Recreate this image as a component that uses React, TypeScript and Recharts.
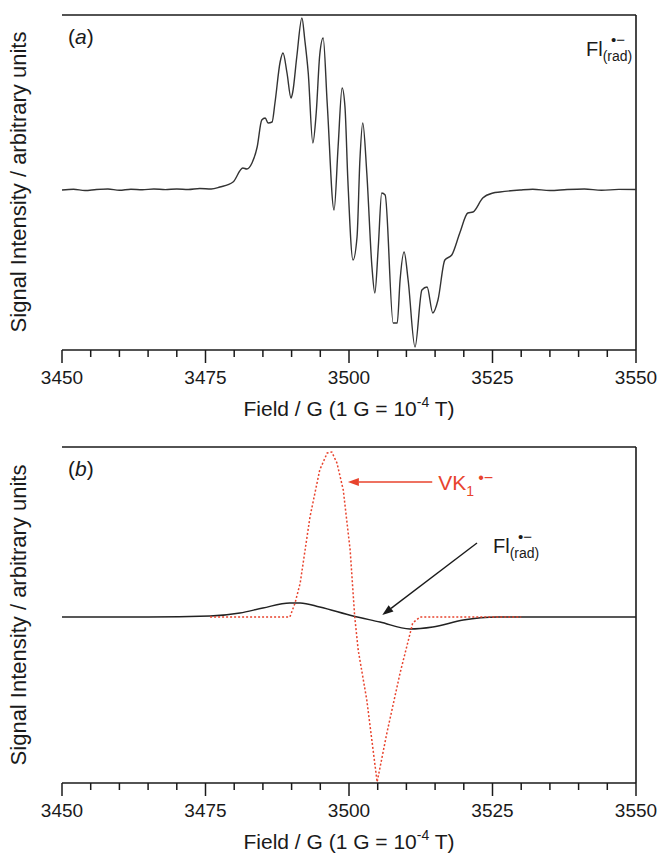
import { LineChart, Line, XAxis, YAxis, ReferenceLine } from 'recharts';

// ---- panel (a): measured Fl(rad) radical anion spectrum ----
const fieldA = [
  3450, 3452, 3454, 3456, 3458, 3460, 3462, 3464, 3466, 3468, 3470, 3472, 3474, 3476, 3477.5,
  3479.8, 3481.5, 3482.2, 3483.1, 3484.0, 3484.8, 3485.4, 3485.9, 3486.6, 3487.1, 3488.0,
  3488.5, 3489.2, 3489.9, 3490.2, 3490.9, 3491.8, 3492.3, 3492.9, 3493.7, 3494.3, 3494.9,
  3495.5, 3496.2, 3497.4, 3498.1, 3498.8, 3499.3, 3499.8, 3500.7, 3501.4, 3501.9, 3502.4,
  3503.1, 3504.0, 3504.5, 3505.1, 3505.7, 3506.3, 3507.7, 3508.4, 3508.9, 3509.6, 3510.3,
  3511.5, 3512.7, 3513.6, 3514.6, 3515.5, 3516.7, 3517.9, 3519.3, 3520.7, 3521.6, 3523.3,
  3525.1, 3526.3, 3529.8, 3532, 3535, 3538, 3541, 3544, 3547, 3550,
];
const signalA = [
  0, 0.8, -0.5, 0.5, 1, -0.3, 0.8, 0.2, 1, 0.4, 1, 0.5, 1.5, 1, 3,
  8, 22, 21, 27, 43, 70, 72, 67, 68, 87, 128,
  137, 117, 92, 98, 133, 172, 150, 117, 47, 78, 135,
  152, 87, -20, 43, 102, 83, 10, -70, -47, 30, 67,
  17, -77, -103, -57, -3, -5, -133, -133, -90, -62, -90,
  -157, -100, -97, -123, -110, -70, -65, -43, -23, -22, -8,
  -3, -2, 0, 0.8, -0.5, 0.5, 1, -0.3, 0.6, 0.5,
];

// ---- panel (b): simulated spectra ----
const fieldFl = [
  3450, 3465, 3475.8, 3481.0, 3485.0, 3489.7, 3491.5, 3494.9, 3500.7, 3505.4, 3510.6, 3514.6,
  3519.9, 3525.8, 3530.3, 3540, 3550,
];
const signalFl = [0, 0, 1, 4, 9, 14, 14, 10, 1, -5, -12, -10, -3, 0, 0, 0, 0];

const fieldVk = [
  3475.8, 3489.7, 3490.6, 3491.5, 3493.2, 3494.9, 3496.2, 3497.0, 3497.9, 3499.0, 3500.2,
  3501.0, 3501.6, 3503.1, 3504.9, 3506.6, 3508.9, 3511.1, 3512.4, 3530,
];
const signalVk = [0, 0, 14, 34, 100, 147, 164, 165, 154, 127, 67, 0, -33, -83, -165, -116, -56, -6, 0, 0];

const fieldTicks = [
  3450, 3455, 3460, 3465, 3470, 3475, 3480, 3485, 3490, 3495, 3500, 3505, 3510, 3515, 3520,
  3525, 3530, 3535, 3540, 3545, 3550,
];

const INK = '#1a1a1a';
const RED = '#e8432d';
const FONT = '"Liberation Sans", Arial, sans-serif';

const dataA = fieldA.map((f, i) => ({ field: f, signal: signalA[i] }));
const dataFl = fieldFl.map((f, i) => ({ field: f, signal: signalFl[i] }));
const dataVk = fieldVk.map((f, i) => ({ field: f, signal: signalVk[i] }));

// major ticks every 25 G with labels, minor every 5 G
const FieldTick = (props: any) => {
  const { x, y, payload } = props;
  const major = payload.value % 25 === 0;
  return (
    <g>
      <line x1={x} y1={y} x2={x} y2={y + (major ? 13 : 7)} stroke={INK} strokeWidth={1.5} />
      {major && (
        <text x={x} y={y + 34} textAnchor="middle" fontSize={19} fill={INK} fontFamily={FONT}>
          {payload.value}
        </text>
      )}
    </g>
  );
};

const FieldLabel = (props: any) => {
  const { viewBox } = props;
  const cx = viewBox.x + viewBox.width / 2;
  return (
    <text x={cx} y={viewBox.y + 66} textAnchor="middle" fontSize={21} fill={INK} fontFamily={FONT}>
      Field / G (1 G = 10
      <tspan fontSize={14} dy={-9}>-4</tspan>
      <tspan dy={9}> T)</tspan>
    </text>
  );
};

const arrowShape = (color: string, label: (x: number, y: number) => any) => (p: any) => {
  const { x1, y1, x2, y2 } = p;
  const ang = Math.atan2(y2 - y1, x2 - x1);
  const len = 11;
  const w = 4;
  const bx = x2 - len * Math.cos(ang);
  const by = y2 - len * Math.sin(ang);
  const px = -Math.sin(ang) * w;
  const py = Math.cos(ang) * w;
  return (
    <g>
      <line x1={x1} y1={y1} x2={bx} y2={by} stroke={color} strokeWidth={1.4} />
      <polygon points={`${x2},${y2} ${bx + px},${by + py} ${bx - px},${by - py}`} fill={color} />
      {label(x1, y1)}
    </g>
  );
};

export default function App() {
  const axisLine = { stroke: INK, strokeWidth: 1.6 };
  return (
    <div
      style={{
        position: 'absolute',
        left: 0,
        top: 0,
        width: 658,
        height: 857,
        background: '#fff',
        fontFamily: FONT,
      }}
    >
      <div style={{ position: 'absolute', left: 0, top: 0 }}>
        <LineChart width={658} height={420} data={dataA} margin={{ top: 15, right: 22, left: 62, bottom: 0 }}>
          <XAxis
            dataKey="field"
            type="number"
            domain={[3450, 3550]}
            ticks={fieldTicks}
            interval={0}
            tick={<FieldTick />}
            tickLine={false}
            tickSize={0}
            tickMargin={0}
            axisLine={axisLine}
            height={70}
            allowDataOverflow
            label={<FieldLabel />}
          />
          <YAxis domain={[-160, 175]} tick={false} tickLine={false} width={0} axisLine={axisLine} allowDataOverflow />
          <ReferenceLine y={175} stroke={INK} strokeWidth={1.6} />
          <ReferenceLine x={3550} stroke={INK} strokeWidth={1.6} />
          <Line
            dataKey="signal"
            type="monotone"
            stroke="#333"
            strokeWidth={1.4}
            dot={false}
            isAnimationActive={false}
          />
        </LineChart>
      </div>

      <div style={{ position: 'absolute', left: 0, top: 432 }}>
        <LineChart width={658} height={425} margin={{ top: 15, right: 22, left: 62, bottom: 0 }}>
          <XAxis
            dataKey="field"
            type="number"
            domain={[3450, 3550]}
            ticks={fieldTicks}
            interval={0}
            tick={<FieldTick />}
            tickLine={false}
            tickSize={0}
            tickMargin={0}
            axisLine={axisLine}
            height={74}
            allowDataOverflow
            label={<FieldLabel />}
          />
          <YAxis domain={[-166, 170]} tick={false} tickLine={false} width={0} axisLine={axisLine} allowDataOverflow />
          <ReferenceLine y={170} stroke={INK} strokeWidth={1.6} />
          <ReferenceLine x={3550} stroke={INK} strokeWidth={1.6} />
          <Line
            data={dataFl}
            dataKey="signal"
            type="monotone"
            stroke="#222"
            strokeWidth={1.5}
            dot={false}
            isAnimationActive={false}
          />
          <Line
            data={dataVk}
            dataKey="signal"
            type="linear"
            stroke={RED}
            strokeWidth={1.5}
            strokeDasharray="2 2"
            dot={false}
            isAnimationActive={false}
          />
          <ReferenceLine
            segment={[{ x: 3514.5, y: 135 }, { x: 3499.8, y: 135 }]}
            shape={arrowShape(RED, (x, y) => (
              <g>
                <text x={x + 6} y={y + 8} fontSize={21} fill={RED} fontFamily={FONT}>
                  VK<tspan fontSize={14} dy={6}>1</tspan>
                </text>
                <text x={x + 46} y={y + 1} fontSize={16} fill={RED} fontFamily={FONT}>
                  •−
                </text>
              </g>
            ))}
          />
          <ReferenceLine
            segment={[{ x: 3522.3, y: 74 }, { x: 3505.8, y: 2 }]}
            shape={arrowShape(INK, (x, y) => (
              <g>
                <text x={x + 16} y={y + 10} fontSize={20} fill={INK} fontFamily={FONT}>
                  Fl<tspan fontSize={14} dy={5}>(rad)</tspan>
                </text>
                <text x={x + 41} y={y - 1} fontSize={15} fill={INK} fontFamily={FONT}>
                  •−
                </text>
              </g>
            ))}
          />
        </LineChart>
      </div>

      <svg
        width={658}
        height={857}
        style={{ position: 'absolute', left: 0, top: 0, pointerEvents: 'none' }}
        fontFamily={FONT}
      >
        <text transform="translate(26,182) rotate(-90)" textAnchor="middle" fontSize={22} fill={INK}>
          Signal Intensity / arbitrary units
        </text>
        <text transform="translate(26,615) rotate(-90)" textAnchor="middle" fontSize={22} fill={INK}>
          Signal Intensity / arbitrary units
        </text>
        <text x={68} y={44} fontSize={21} fill={INK}>
          (<tspan fontStyle="italic">a</tspan>)
        </text>
        <text x={68} y={476} fontSize={21} fill={INK}>
          (<tspan fontStyle="italic">b</tspan>)
        </text>
        <text x={586} y={56} fontSize={20} fill={INK}>
          Fl<tspan fontSize={14} dy={5}>(rad)</tspan>
        </text>
        <text x={611} y={45} fontSize={15} fill={INK}>
          •−
        </text>
      </svg>
    </div>
  );
}
